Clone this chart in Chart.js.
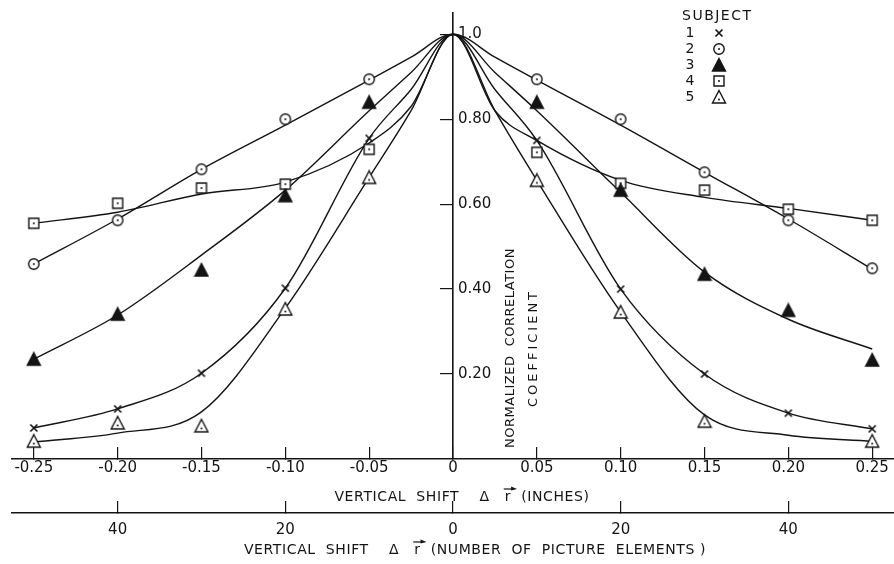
<!DOCTYPE html>
<html>
<head>
<meta charset="utf-8">
<script src="https://cdn.jsdelivr.net/npm/chart.js@4.4.1/dist/chart.umd.min.js"></script>
<style>
  html, body { margin: 0; padding: 0; background: #fff; }
  #wrap { width: 894px; height: 564px; }
</style>
</head>
<body>
<div id="wrap"><canvas id="corr" width="894" height="564"></canvas></div>
<script>
// shifts (inches) where each subject was measured
const shiftInches = [-0.25, -0.20, -0.15, -0.10, -0.05, 0, 0.05, 0.10, 0.15, 0.20, 0.25];
// measured marks per subject (null = no mark drawn)
const subj1Pts = [0.073, 0.118, 0.202, 0.402, 0.755, null, 0.750, 0.400, 0.200, 0.108, 0.071];
const subj2Pts = [0.459, 0.562, 0.682, 0.800, 0.894, null, 0.894, 0.800, 0.675, 0.562, 0.449];
const subj3Pts = [0.235, 0.341, 0.445, 0.620, 0.840, null, 0.840, 0.633, 0.435, 0.350, 0.233];
const subj4Pts = [0.555, 0.602, 0.638, 0.647, 0.729, null, 0.722, 0.649, 0.633, 0.588, 0.562];
const subj5Pts = [0.042, 0.085, 0.078, 0.353, 0.663, null, 0.656, 0.346, 0.089, null, 0.042];

// smooth curves drawn through the data
const curveInches = [-0.25, -0.20, -0.15, -0.10, -0.05, -0.025, 0, 0.025, 0.05, 0.10, 0.15, 0.20, 0.25];
const subj1Curve = [0.073, 0.118, 0.202, 0.402, 0.755, 0.870, 1.0, 0.870, 0.750, 0.400, 0.200, 0.108, 0.071];
const subj2Curve = [0.459, 0.565, 0.682, 0.786, 0.892, 0.946, 1.0, 0.946, 0.892, 0.786, 0.675, 0.565, 0.447];
const subj3Curve = [0.235, 0.339, 0.480, 0.633, 0.820, 0.910, 1.0, 0.910, 0.820, 0.628, 0.440, 0.329, 0.259];
const subj4Curve = [0.555, 0.581, 0.624, 0.652, 0.744, 0.830, 1.0, 0.820, 0.750, 0.656, 0.616, 0.590, 0.562];
const subj5Curve = [0.040, 0.061, 0.111, 0.355, 0.663, 0.820, 1.0, 0.820, 0.656, 0.346, 0.104, 0.056, 0.042];

// axis ticks
const inchTicks = [-0.25, -0.20, -0.15, -0.10, -0.05, 0, 0.05, 0.10, 0.15, 0.20, 0.25];
const inchTickLabels = ['-0.25', '-0.20', '-0.15', '-0.10', '-0.05', '0', '0.05', '0.10', '0.15', '0.20', '0.25'];
const elemTicks = [-40, -20, 0, 20, 40];
const elemTickLabels = ['40', '20', '0', '20', '40'];
const corrTicks = [0.2, 0.4, 0.6, 0.8, 1.0];
const corrTickLabels = ['0.20', '0.40', '0.60', '0.80', '1.0'];
const subjectNames = ['1', '2', '3', '4', '5'];

const INK = '#141414';
const FONT = '"DejaVu Sans", sans-serif';

// little canvases used as point styles
function makeMark(kind) {
  const c = document.createElement('canvas');
  c.width = 16; c.height = 16;
  const g = c.getContext('2d');
  const m = 8;
  g.strokeStyle = INK; g.fillStyle = '#fff'; g.lineWidth = 1.4;
  if (kind === 'cross') {
    g.lineWidth = 1.7;
    g.beginPath();
    g.moveTo(m - 3.5, m - 3.5); g.lineTo(m + 3.5, m + 3.5);
    g.moveTo(m + 3.5, m - 3.5); g.lineTo(m - 3.5, m + 3.5);
    g.stroke();
    return c;
  }
  g.beginPath();
  if (kind === 'circle') g.arc(m, m, 5.2, 0, Math.PI * 2);
  if (kind === 'square') g.rect(m - 5, m - 5, 10, 10);
  if (kind === 'tri' || kind === 'triFill') {
    g.moveTo(m, 1.5); g.lineTo(m + 6.5, 14); g.lineTo(m - 6.5, 14); g.closePath();
  }
  if (kind === 'triFill') g.fillStyle = INK;
  g.fill(); g.stroke();
  if (kind !== 'triFill') {
    g.fillStyle = INK;
    g.beginPath(); g.arc(m, kind === 'tri' ? m + 2.5 : m, 1, 0, Math.PI * 2); g.fill();
  }
  return c;
}
const marks = [makeMark('cross'), makeMark('circle'), makeMark('triFill'), makeMark('square'), makeMark('tri')];

const ptsList = [subj1Pts, subj2Pts, subj3Pts, subj4Pts, subj5Pts];
const curveList = [subj1Curve, subj2Curve, subj3Curve, subj4Curve, subj5Curve];

const datasets = [];
ptsList.forEach((pts, k) => {
  datasets.push({
    label: 'Subject ' + subjectNames[k],
    data: shiftInches.map((x, i) => ({ x: x, y: pts[i] })).filter(p => p.y !== null),
    showLine: false,
    pointStyle: marks[k],
    pointRadius: 6,
    order: 0
  });
});
curveList.forEach((cv, k) => {
  datasets.push({
    label: 'Curve ' + subjectNames[k],
    data: curveInches.map((x, i) => ({ x: x, y: cv[i] })),
    borderColor: INK,
    borderWidth: 1.4,
    pointRadius: 0,
    cubicInterpolationMode: 'monotone',
    fill: false,
    order: 1
  });
});

// title with the vector r (arrow over the letter)
function shiftTitle(ctx, cx, cy, tail) {
  ctx.font = '14px ' + FONT;
  ctx.letterSpacing = '0.6px';
  ctx.textAlign = 'left';
  ctx.textBaseline = 'alphabetic';
  const head = 'VERTICAL  SHIFT    \u0394   ';
  const wHead = ctx.measureText(head).width;
  const wR = ctx.measureText('r').width;
  const wTail = ctx.measureText(tail).width;
  let sx = cx - (wHead + wR + wTail) / 2;
  const base = cy + 5;
  ctx.fillText(head, sx, base);
  sx += wHead;
  ctx.fillText('r', sx, base);
  const ay = base - 12;
  ctx.lineWidth = 1.2;
  ctx.beginPath(); ctx.moveTo(sx - 1, ay); ctx.lineTo(sx + wR + 2, ay); ctx.stroke();
  ctx.beginPath();
  ctx.moveTo(sx + wR + 6, ay); ctx.lineTo(sx + wR, ay - 2.5); ctx.lineTo(sx + wR, ay + 1.5); ctx.closePath();
  ctx.fill();
  ctx.fillText(tail, sx + wR, base);
}

const decorations = {
  id: 'decorations',
  afterDraw(chart) {
    const { ctx, scales: { x, y } } = chart;
    ctx.save();
    ctx.fillStyle = INK; ctx.strokeStyle = INK;

    // y tick labels sit to the right of the centre axis
    const x0 = x.getPixelForValue(0);
    ctx.font = '15px ' + FONT;
    ctx.textAlign = 'left'; ctx.textBaseline = 'middle';
    corrTicks.forEach((v, i) => ctx.fillText(corrTickLabels[i], x0 + 5, y.getPixelForValue(v)));

    // vertical axis title, two lines
    ctx.save();
    ctx.font = '13px ' + FONT;
    ctx.textAlign = 'center';
    ctx.translate(x0 + 58, 348);
    ctx.rotate(-Math.PI / 2);
    ctx.letterSpacing = '0.5px';
    ctx.fillText('NORMALIZED  CORRELATION', 0, 0);
    ctx.letterSpacing = '3px';
    ctx.fillText('COEFFICIENT', 0, 23);
    ctx.restore();

    // horizontal axis titles
    shiftTitle(ctx, 462, 496, '  (INCHES)');
    shiftTitle(ctx, 475, 549, '  (NUMBER  OF  PICTURE  ELEMENTS )');

    // legend
    ctx.font = '14px ' + FONT;
    ctx.textAlign = 'left'; ctx.textBaseline = 'middle';
    ctx.letterSpacing = '1.5px';
    ctx.fillText('SUBJECT', 682, 16);
    ctx.letterSpacing = '0px';
    ctx.textAlign = 'center';
    subjectNames.forEach((s, i) => {
      const ry = 33 + i * 16;
      ctx.fillText(s, 690, ry);
      ctx.drawImage(marks[i], 719 - 8, ry - 8);
    });
    ctx.restore();
  }
};

new Chart(document.getElementById('corr'), {
  type: 'line',
  data: { datasets: datasets },
  options: {
    responsive: false,
    animation: false,
    devicePixelRatio: 1,
    layout: { autoPadding: false, padding: { top: 13, left: 12, right: 0, bottom: 0 } },
    plugins: { legend: { display: false }, tooltip: { enabled: false } },
    scales: {
      x: {
        type: 'linear', position: 'bottom', weight: 0,
        min: -0.263, max: 0.263,
        afterBuildTicks: s => { s.ticks = inchTicks.map(v => ({ value: v })); },
        afterFit: s => { s.height = 54; },
        grid: { drawOnChartArea: false, tickLength: -12, color: INK, lineWidth: 1.2 },
        border: { color: INK, width: 1.6 },
        ticks: {
          callback: (v, i) => inchTickLabels[i], color: INK,
          font: { family: 'DejaVu Sans', size: 15, lineHeight: '42px' },
          padding: 0, maxRotation: 0, autoSkip: false
        }
      },
      x2: {
        type: 'linear', position: 'bottom', weight: 1,
        min: -52.6, max: 52.6,
        afterBuildTicks: s => { s.ticks = elemTicks.map(v => ({ value: v })); },
        afterFit: s => { s.height = 51; },
        grid: { drawOnChartArea: false, tickLength: -12, color: INK, lineWidth: 1.2 },
        border: { color: INK, width: 1.6 },
        ticks: {
          callback: (v, i) => elemTickLabels[i], color: INK,
          font: { family: 'DejaVu Sans', size: 15, lineHeight: '58px' },
          padding: 0, maxRotation: 0, autoSkip: false
        }
      },
      y: {
        type: 'linear', position: { x: 0 },
        min: 0, max: 1.05,
        afterBuildTicks: s => { s.ticks = corrTicks.map(v => ({ value: v })); },
        grid: { drawOnChartArea: false, tickLength: 12, color: INK, lineWidth: 1.2 },
        border: { color: INK, width: 1.6 },
        ticks: { display: false }
      }
    }
  },
  plugins: [decorations]
});
</script>
</body>
</html>
